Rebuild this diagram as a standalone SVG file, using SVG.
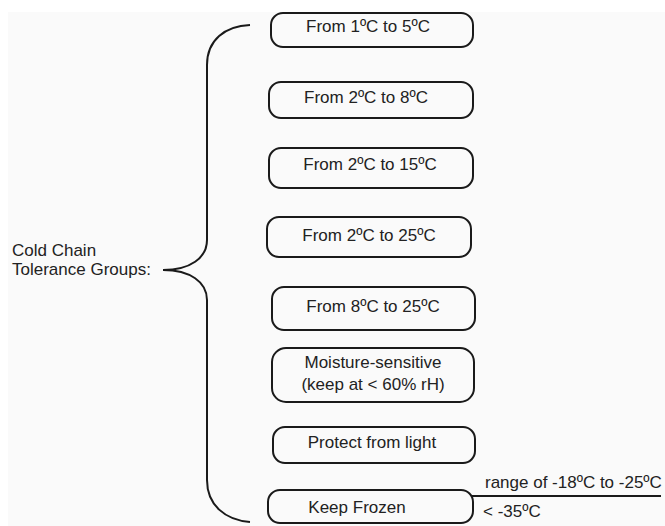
<svg xmlns="http://www.w3.org/2000/svg" width="665" height="526" viewBox="0 0 665 526">
<style>
.box{fill:none;stroke:#1a1a1a;stroke-width:2}
.t{font-family:"Liberation Sans",Arial,sans-serif;font-size:17px;fill:#222;text-anchor:middle}
.l{font-family:"Liberation Sans",Arial,sans-serif;font-size:17px;fill:#222}
.c{fill:none;stroke:#1a1a1a;stroke-width:2}
</style>
<rect x="0" y="0" width="665" height="526" fill="#ffffff"/>
<rect x="8" y="12" width="657" height="514" fill="#fafafa"/>
<g id="root">
<text class="l" x="12" y="256">Cold Chain</text>
<text class="l" x="12" y="275">Tolerance Groups:</text>
</g>
<g id="connectors">
<path class="c" d="M250,25 C225,26 207,40 207,65 L207,240 C207,258 190,270 163,270 C190,270 207,282 207,300 L207,480 C207,505 225,520 250,522"/>
<line class="c" x1="472" y1="496" x2="661" y2="496" stroke-width="1.5"/>
</g>
<g id="n1"><rect class="box" x="271" y="13" width="202" height="34" rx="12"/><text class="t" x="368" y="32">From 1ºC to 5ºC</text></g>
<g id="n2"><rect class="box" x="269" y="82" width="204" height="36" rx="12"/><text class="t" x="366" y="103">From 2ºC to 8ºC</text></g>
<g id="n3"><rect class="box" x="269" y="148" width="204" height="40" rx="12"/><text class="t" x="370" y="170">From 2ºC to 15ºC</text></g>
<g id="n4"><rect class="box" x="267" y="217" width="204" height="40" rx="12"/><text class="t" x="369" y="241">From 2ºC to 25ºC</text></g>
<g id="n5"><rect class="box" x="272" y="287" width="203" height="43" rx="12"/><text class="t" x="373" y="312">From 8ºC to 25ºC</text></g>
<g id="n6"><rect class="box" x="272" y="348" width="202" height="54" rx="14"/><text class="t" x="373" y="368">Moisture-sensitive</text><text class="t" x="373" y="390">(keep at &lt; 60% rH)</text></g>
<g id="n7"><rect class="box" x="273" y="427" width="202" height="36" rx="12"/><text class="t" x="372" y="448">Protect from light</text></g>
<g id="n8"><rect class="box" x="268" y="490" width="205" height="33" rx="12"/><text class="t" x="357" y="513">Keep Frozen</text></g>
<g id="note">
<text class="l" x="485" y="488">range of -18ºC to -25ºC</text>
<text class="l" x="483" y="517">&lt; -35ºC</text>
</g>
</svg>
